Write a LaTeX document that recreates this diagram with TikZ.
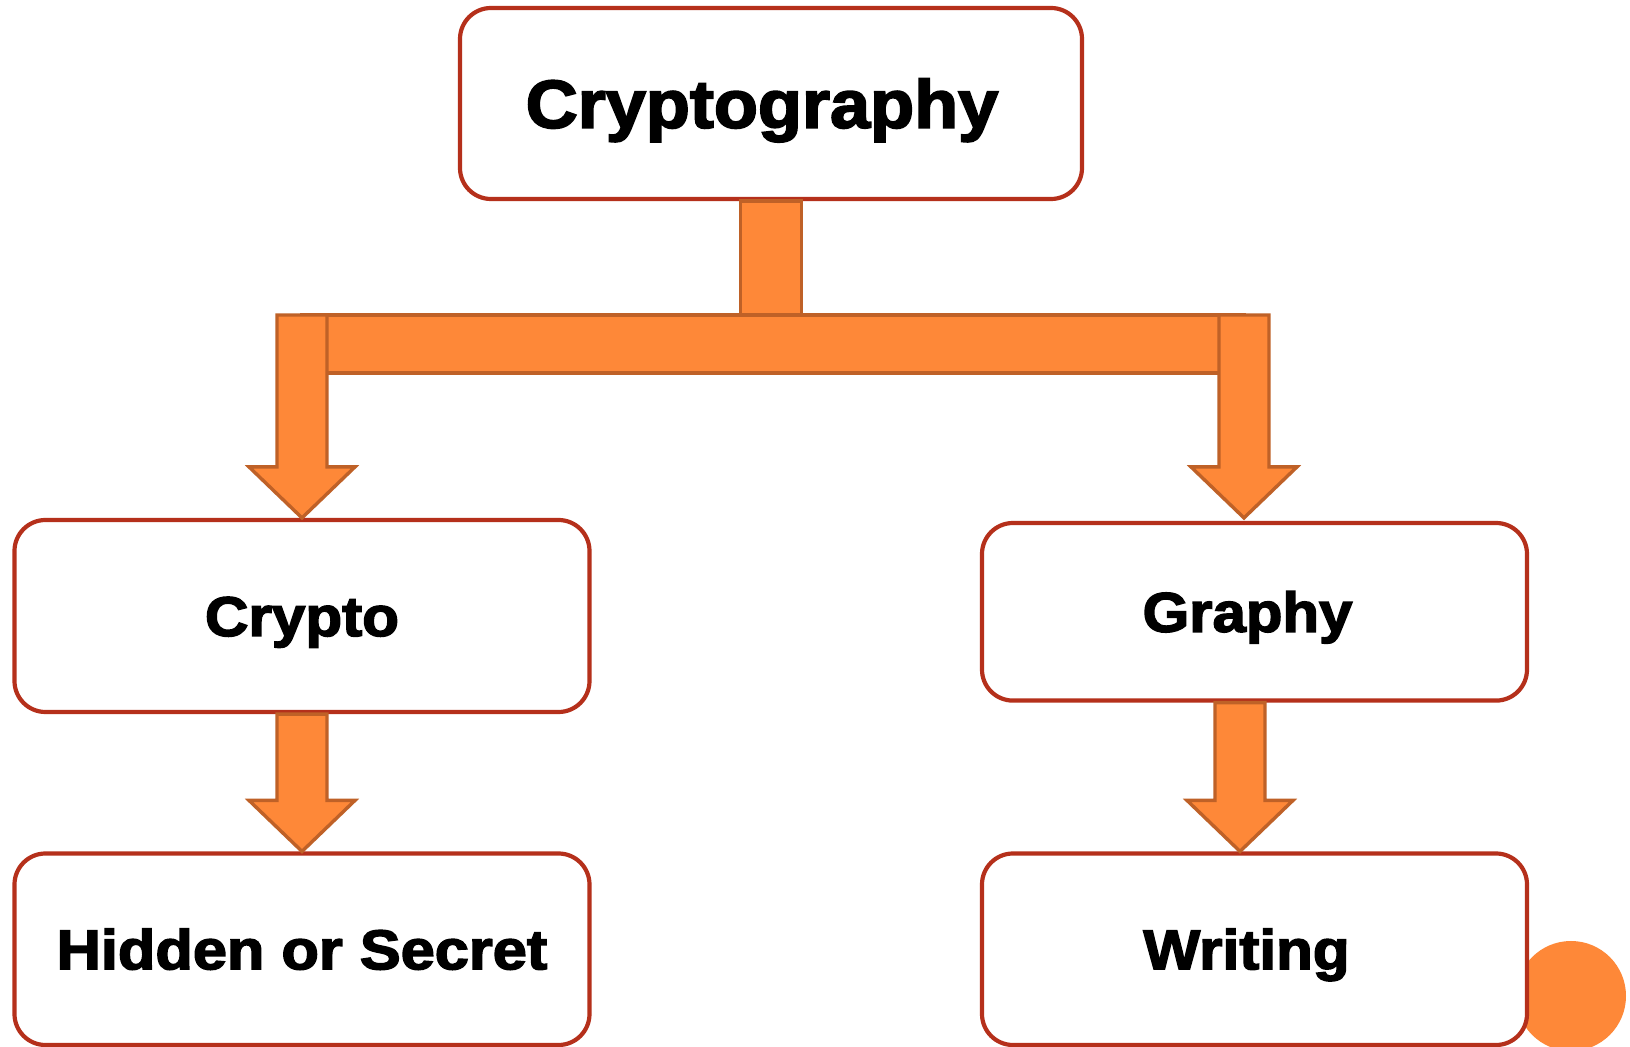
\documentclass[tikz,border=0pt]{standalone}
\usepackage{fontspec}
\usepackage{graphicx}
\usetikzlibrary{calc}
\newfontfamily\heavy[FakeBold=2.6]{Liberation Sans Bold}
\definecolor{boxred}{HTML}{B5301B}
\definecolor{arrowfill}{HTML}{FE8838}
\definecolor{arrowedge}{HTML}{BF6127}
% horizontally widened heavy label
\newcommand\widetext[2]{\scalebox{#1}[1]{#2}}
% down-pointing block arrow: start point, tip point, head length
\newcommand\blockdown[3]{%
  \draw[arrowbody] ($(#1)+(-25,0)$) -- ($(#2)+(-25,-#3)$) -- ($(#2)+(-53,-#3)$)
    -- (#2) -- ($(#2)+(53,-#3)$) -- ($(#2)+(25,-#3)$) -- ($(#1)+(25,0)$) -- cycle;}
\begin{document}
\begin{tikzpicture}[x=0.5pt,y=-0.5pt,
  box/.style={draw=boxred, line width=2.1pt, rounded corners=15.5pt, fill=white,
    rectangle, inner sep=0pt},
  arrowbody/.style={draw=arrowedge, fill=arrowfill, line width=1.7pt, line join=miter},
  bigcap/.style={inner sep=0pt, text height=24.3pt, text depth=0pt,
    font=\heavy\fontsize{34}{40}\selectfont},
  smallcap/.style={inner sep=0pt, text height=20pt, text depth=0pt,
    font=\heavy\fontsize{28}{34}\selectfont}]
\useasboundingbox (0,0) rectangle (1630,1047);
\fill[white] (0,0) rectangle (1630,1047);

% decorative disc behind the lower right box
\fill[arrowfill] (1571,996) circle[radius=27.5pt];

% boxes
\node[box, minimum width=311pt, minimum height=95.5pt] (top) at (771,103.5) {};
\node[box, minimum width=287.5pt, minimum height=96pt] (crypto) at (302,616) {};
\node[box, minimum width=287.5pt, minimum height=95.75pt] (hidden) at (302,949.25) {};
\node[box, minimum width=272.5pt, minimum height=88.8pt] (graphy) at (1254.5,611.8) {};
\node[box, minimum width=272.5pt, minimum height=95.75pt] (writing) at (1254.5,949.25) {};

% labels
\node[bigcap] (topText) at ($(top.center)+(-9,0)$) {\widetext{1.06}{Cryptography}};
\node[smallcap] (cryptoText) at (crypto.center) {\widetext{1.075}{Crypto}};
\node[smallcap] (hiddenText) at (hidden.center) {\widetext{1.095}{Hidden or Secret}};
\node[smallcap] (graphyText) at ($(graphy.center)+(-7,0)$) {\widetext{1.07}{Graphy}};
\node[smallcap] (writingText) at ($(writing.center)+(-8,0)$) {\widetext{1.075}{Writing}};

% branching connector
\coordinate (barL) at (302,315);
\coordinate (barR) at (1244,373);
\coordinate (stemfoot) at (771,315);
\coordinate (leftstart) at (302,315);
\coordinate (rightstart) at (1244,315);
\coordinate (rightTip) at ($(graphy.north)+(-10.5,-3)$);
\coordinate (gwStart) at ($(graphy.south)+(-14.5,0)$);
\coordinate (gwTip) at ($(writing.north)+(-14.5,0)$);

\draw[arrowbody] (barL) rectangle (barR);
\draw[arrowbody] ($(top.south)+(-30.5,0)$) rectangle ($(stemfoot)+(30.5,0)$);
\blockdown{leftstart}{crypto.north}{51}
\blockdown{rightstart}{rightTip}{51}
\blockdown{crypto.south}{hidden.north}{51}
\blockdown{gwStart}{gwTip}{51}
\end{tikzpicture}
\end{document}
